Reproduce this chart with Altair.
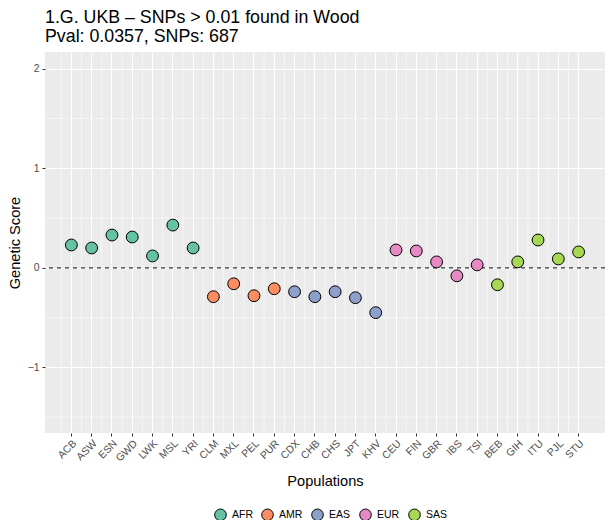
import altair as alt
import pandas as pd

pops = ["ACB", "ASW", "ESN", "GWD", "LWK", "MSL", "YRI",
        "CLM", "MXL", "PEL", "PUR",
        "CDX", "CHB", "CHS", "JPT", "KHV",
        "CEU", "FIN", "GBR", "IBS", "TSI",
        "BEB", "GIH", "ITU", "PJL", "STU"]
superpops = ["AFR", "AFR", "AFR", "AFR", "AFR", "AFR", "AFR",
             "AMR", "AMR", "AMR", "AMR",
             "EAS", "EAS", "EAS", "EAS", "EAS",
             "EUR", "EUR", "EUR", "EUR", "EUR",
             "SAS", "SAS", "SAS", "SAS", "SAS"]
scores = [0.23, 0.20, 0.33, 0.31, 0.12, 0.43, 0.20,
          -0.29, -0.16, -0.28, -0.21,
          -0.24, -0.29, -0.24, -0.30, -0.45,
          0.18, 0.17, 0.06, -0.08, 0.03,
          -0.17, 0.06, 0.28, 0.09, 0.16]
groups = ["AFR", "AMR", "EAS", "EUR", "SAS"]
group_colors = ["#66C2A5", "#FC8D62", "#8DA0CB", "#E78AC3", "#A6D854"]
y_major = [-1, 0, 1, 2]
y_minor = [-1.5, -0.5, 0.5, 1.5]
ref_line = [0]

df = pd.DataFrame({"pop": pops, "superpop": superpops, "score": scores})
minor_df = pd.DataFrame({"v": y_minor})
ref_df = pd.DataFrame({"v": ref_line})

W, H = 560, 381
FONT = "Liberation Sans"

x_scale = alt.Scale(type="band", paddingInner=0, paddingOuter=0.8)
x_axis = alt.Axis(
    title="Populations", labelAngle=-45, bandPosition=0.5,
    grid=True, gridColor="white", gridWidth=1.1,
    domain=False, ticks=True, tickColor="#333333", tickSize=3, tickWidth=1,
    labelColor="#4D4D4D", labelFontSize=10.4, labelPadding=2,
    titleFontSize=14.6, titleColor="black", titleFontWeight="normal",
    titleY=52, titleBaseline="alphabetic",
)
y_scale = alt.Scale(domain=[-1.66, 2.17], nice=False, zero=False)
y_axis = alt.Axis(
    title="Genetic Score", values=y_major, format="d",
    grid=True, gridColor="white", gridWidth=1.1,
    domain=False, ticks=True, tickColor="#333333", tickSize=3, tickWidth=1,
    labelColor="#4D4D4D", labelFontSize=10.4, labelPadding=3,
    titleFontSize=14.6, titleColor="black", titleFontWeight="normal",
    titleX=-26, titleY=H / 2, titleBaseline="alphabetic",
)

minor_x = alt.Chart(df).mark_rule(color="white", strokeWidth=0.55).encode(
    x=alt.X("pop:N", sort=pops, scale=x_scale, axis=x_axis, bandPosition=0)
)
minor_y = alt.Chart(minor_df).mark_rule(color="white", strokeWidth=0.55).encode(
    y=alt.Y("v:Q", scale=y_scale, axis=y_axis)
)
ref = alt.Chart(ref_df).mark_rule(color="#333333", strokeWidth=1.2, strokeDash=[4, 4]).encode(
    y=alt.Y("v:Q", scale=y_scale, axis=y_axis)
)
points = alt.Chart(df).mark_circle(size=140, stroke="black", strokeWidth=1, opacity=1).encode(
    x=alt.X("pop:N", sort=pops, scale=x_scale, axis=x_axis),
    y=alt.Y("score:Q", scale=y_scale, axis=y_axis),
    color=alt.Color(
        "superpop:N",
        scale=alt.Scale(domain=groups, range=group_colors),
        legend=alt.Legend(
            title=None, orient="none", legendX=169, legendY=456,
            direction="horizontal", symbolType="circle", symbolSize=135,
            symbolStrokeColor="black", symbolStrokeWidth=1, symbolOpacity=1,
            labelFontSize=10.5, labelColor="black", labelOffset=5,
            columnPadding=6, padding=0,
        ),
    ),
)

chart = alt.layer(minor_x, minor_y, ref, points).properties(
    width=W, height=H,
    title=alt.Title(
        text=["1.G. UKB \u2013 SNPs > 0.01 found in Wood", "Pval: 0.0357, SNPs: 687"],
        anchor="start", frame="group", fontSize=17.8, fontWeight="normal",
        color="black", lineHeight=19, offset=6, font=FONT,
    ),
    autosize=alt.AutoSizeParams(type="none"),
    padding={"left": 37, "top": 44, "right": 2, "bottom": 87},
).configure(
    font=FONT, background="white"
).configure_view(
    fill="#EBEBEB", strokeWidth=0
)

chart.save("out.html", embed_options={"renderer": "svg", "actions": False})
